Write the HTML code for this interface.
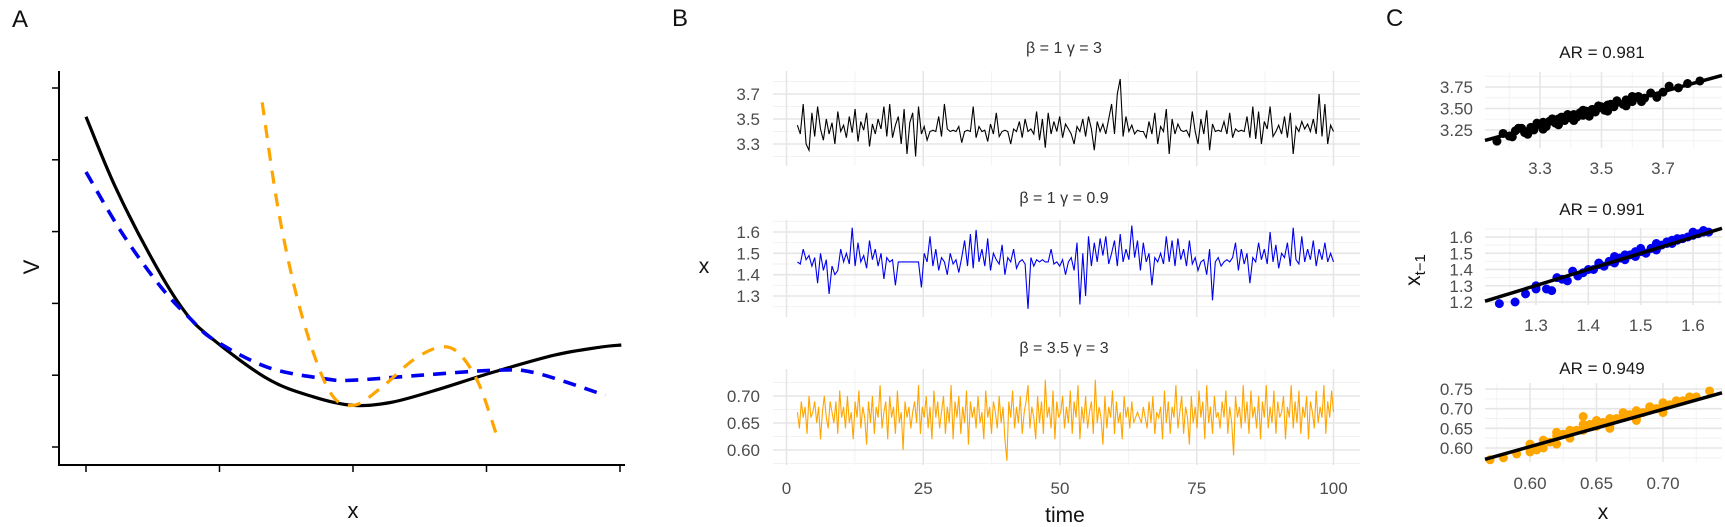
<!DOCTYPE html>
<html><head><meta charset="utf-8">
<style>
html,body{margin:0;padding:0;background:#fff;}
svg{display:block;font-family:"Liberation Sans",sans-serif;}
</style></head>
<body>
<svg id="fig" width="1725" height="527" viewBox="0 0 1725 527" xmlns="http://www.w3.org/2000/svg">
  <text x="12" y="27" font-size="24" fill="#111">A</text>
  <text x="672" y="26" font-size="24" fill="#111">B</text>
  <text x="1386" y="26" font-size="24" fill="#111">C</text>
  <g id="pa"></g>
  <g id="pb"></g>
  <g id="pc"></g>
</svg>
<script>
// ---------- Panel A data (x, V in arbitrary units) ----------
const aTicksX = [0,1,2,3,4];
const aTicksY = [0,1,2,3,4,5];
const blackX = [0,0.22,0.50,0.73,0.93,1.36,1.70,2.0,2.28,2.60,3.03,3.51,3.85,4.01];
const blackV = [4.60,3.62,2.60,1.91,1.53,0.95,0.70,0.58,0.62,0.78,1.03,1.28,1.39,1.42];
const blueX = [0,0.27,0.56,0.79,0.96,1.36,1.79,2.0,2.51,3.08,3.37,3.89];
const blueV = [3.83,2.98,2.23,1.77,1.49,1.11,0.95,0.93,1.00,1.07,1.03,0.72];
const orangeX = [1.32,1.45,1.62,1.82,2.0,2.22,2.45,2.65,2.79,2.94,3.08];
const orangeV = [4.80,3.20,1.81,0.79,0.58,0.84,1.21,1.39,1.31,0.89,0.14];

// ---------- Panel B data ----------
const bTimeTicks = [0,25,50,75,100];
const bStart = 2;
const bEnd = 100;
const seriesBlack = [
3.45,3.38,3.62,3.30,3.25,3.55,3.36,3.60,3.42,3.33,3.50,3.38,3.47,3.30,3.56,3.40,3.45,3.35,3.52,3.39,
3.58,3.32,3.48,3.41,3.55,3.28,3.46,3.38,3.50,3.42,3.60,3.36,3.62,3.35,3.45,3.52,3.30,3.58,3.22,3.47,
3.55,3.20,3.60,3.38,3.44,3.33,3.40,3.41,3.40,3.52,3.36,3.62,3.42,3.40,3.41,3.40,3.44,3.31,3.40,3.41,
3.40,3.60,3.35,3.44,3.40,3.41,3.32,3.46,3.38,3.55,3.36,3.40,3.41,3.40,3.30,3.42,3.40,3.48,3.35,3.50,
3.40,3.42,3.38,3.56,3.33,3.50,3.27,3.55,3.38,3.48,3.40,3.52,3.35,3.46,3.42,3.38,3.30,3.44,3.40,3.50,
3.36,3.52,3.42,3.25,3.48,3.40,3.46,3.38,3.50,3.62,3.38,3.70,3.82,3.36,3.52,3.40,3.45,3.38,3.41,3.40,
3.40,3.35,3.48,3.38,3.55,3.30,3.44,3.40,3.58,3.22,3.50,3.38,3.46,3.41,3.40,3.41,3.36,3.56,3.40,3.30,
3.50,3.38,3.57,3.25,3.46,3.40,3.41,3.40,3.48,3.38,3.55,3.35,3.42,3.40,3.41,3.40,3.52,3.35,3.60,3.34,
3.56,3.30,3.48,3.42,3.60,3.36,3.40,3.45,3.38,3.52,3.35,3.55,3.22,3.44,3.40,3.48,3.42,3.46,3.40,3.50,
3.38,3.70,3.36,3.62,3.30,3.45,3.40];
const seriesBlue = [
1.46,1.45,1.52,1.47,1.49,1.44,1.48,1.36,1.50,1.42,1.47,1.31,1.44,1.40,1.42,1.52,1.46,1.50,1.45,1.62,
1.44,1.55,1.46,1.49,1.43,1.56,1.47,1.52,1.44,1.50,1.38,1.48,1.46,1.47,1.35,1.46,1.46,1.46,1.46,1.46,
1.46,1.46,1.46,1.34,1.50,1.46,1.58,1.44,1.52,1.42,1.48,1.46,1.40,1.50,1.45,1.47,1.41,1.48,1.56,1.44,
1.59,1.43,1.61,1.46,1.52,1.44,1.57,1.42,1.50,1.47,1.45,1.54,1.40,1.48,1.46,1.52,1.43,1.46,1.47,1.45,
1.24,1.48,1.44,1.47,1.46,1.47,1.46,1.46,1.52,1.45,1.46,1.44,1.47,1.40,1.46,1.48,1.42,1.55,1.26,1.50,
1.30,1.58,1.44,1.55,1.46,1.57,1.49,1.58,1.45,1.50,1.56,1.44,1.59,1.46,1.52,1.47,1.63,1.48,1.56,1.42,
1.55,1.46,1.50,1.35,1.48,1.46,1.50,1.45,1.58,1.46,1.56,1.44,1.57,1.47,1.52,1.44,1.56,1.45,1.48,1.42,
1.46,1.47,1.40,1.52,1.28,1.46,1.48,1.44,1.46,1.47,1.46,1.48,1.55,1.42,1.52,1.45,1.50,1.36,1.48,1.46,
1.55,1.47,1.52,1.45,1.60,1.46,1.54,1.43,1.50,1.48,1.55,1.44,1.62,1.47,1.45,1.58,1.46,1.52,1.47,1.56,
1.44,1.52,1.47,1.55,1.46,1.50,1.46];
const seriesOrange = [
0.67,0.64,0.69,0.66,0.68,0.63,0.70,0.66,0.67,0.69,0.65,0.68,0.62,0.67,0.70,0.66,0.64,0.69,0.67,0.65,
0.69,0.63,0.71,0.66,0.68,0.64,0.70,0.65,0.67,0.62,0.69,0.66,0.71,0.64,0.68,0.66,0.61,0.69,0.65,0.70,
0.63,0.68,0.66,0.72,0.64,0.67,0.69,0.62,0.70,0.66,0.68,0.63,0.71,0.65,0.67,0.60,0.69,0.66,0.68,0.64,
0.67,0.69,0.65,0.72,0.63,0.68,0.66,0.70,0.64,0.68,0.62,0.71,0.66,0.69,0.64,0.67,0.70,0.63,0.68,0.65,
0.72,0.62,0.69,0.66,0.70,0.63,0.68,0.65,0.71,0.61,0.69,0.66,0.68,0.64,0.70,0.65,0.67,0.62,0.71,0.66,
0.68,0.63,0.69,0.67,0.64,0.70,0.65,0.68,0.62,0.58,0.69,0.66,0.71,0.64,0.68,0.65,0.70,0.63,0.67,0.69,
0.72,0.64,0.68,0.66,0.62,0.70,0.65,0.69,0.63,0.73,0.66,0.68,0.64,0.71,0.62,0.69,0.66,0.67,0.70,0.64,
0.68,0.65,0.71,0.63,0.69,0.66,0.72,0.62,0.68,0.65,0.70,0.64,0.67,0.69,0.63,0.73,0.65,0.68,0.66,0.61,
0.70,0.64,0.68,0.66,0.71,0.63,0.69,0.65,0.67,0.62,0.70,0.66,0.68,0.64,0.69,0.65,0.66,0.67,0.66,0.65,
0.68,0.66,0.64,0.69,0.65,0.70,0.63,0.67,0.66,0.68,0.62,0.71,0.65,0.69,0.63,0.68,0.66,0.72,0.64,0.67,
0.70,0.63,0.68,0.66,0.61,0.70,0.65,0.68,0.64,0.71,0.66,0.69,0.62,0.72,0.65,0.68,0.63,0.70,0.66,0.67,
0.64,0.69,0.66,0.71,0.63,0.68,0.65,0.59,0.70,0.66,0.68,0.64,0.72,0.65,0.69,0.63,0.71,0.66,0.68,0.64,
0.70,0.62,0.69,0.66,0.72,0.64,0.68,0.65,0.71,0.63,0.69,0.66,0.67,0.70,0.62,0.68,0.66,0.72,0.64,0.69,
0.65,0.71,0.63,0.68,0.66,0.70,0.62,0.69,0.67,0.64,0.71,0.65,0.68,0.66,0.72,0.63,0.69,0.66,0.71,0.67];
const bYTicks1 = ["3.3","3.5","3.7"];
const bYTicks2 = ["1.3","1.4","1.5","1.6"];
const bYTicks3 = ["0.60","0.65","0.70"];

// ---------- Panel C data ----------
const arLabels = ["AR = 0.981","AR = 0.991","AR = 0.949"];
const fitSlope = [0.981,0.991,0.949];
const fitIntercept = [0.0665,0.013,0.034];
const cx1 = [3.16,3.20,3.22,3.25,3.27,3.28,3.30,3.32,3.33,3.35,3.36,3.38,3.39,3.40,3.41,3.42,3.43,3.44,3.45,3.46,3.47,3.48,3.50,3.51,3.52,3.54,3.55,3.57,3.58,3.60,3.62,3.64,3.66,3.68,3.70,3.72,3.75,3.78,3.82,3.24,3.31,3.37,3.44,3.49,3.53,3.61,
3.18,3.21,3.23,3.26,3.29,3.31,3.34,3.36,3.39,3.41,3.44,3.46,3.49,3.52,3.55,3.58,3.60,3.63];
const cy1 = [3.12,3.18,3.24,3.22,3.28,3.25,3.31,3.29,3.35,3.33,3.38,3.36,3.41,3.39,3.43,3.40,3.45,3.42,3.47,3.44,3.49,3.46,3.52,3.48,3.54,3.52,3.57,3.55,3.60,3.58,3.64,3.62,3.68,3.63,3.69,3.76,3.74,3.79,3.82,3.27,3.34,3.40,3.46,3.51,3.55,3.63,
3.21,3.17,3.27,3.20,3.33,3.26,3.38,3.31,3.43,3.36,3.48,3.41,3.53,3.47,3.59,3.53,3.64,3.58];
const cx2 = [1.23,1.26,1.28,1.30,1.32,1.33,1.35,1.36,1.38,1.39,1.40,1.41,1.42,1.43,1.44,1.45,1.46,1.47,1.48,1.49,1.50,1.51,1.52,1.53,1.54,1.55,1.56,1.57,1.58,1.59,1.60,1.61,1.62,1.63,1.30,1.34,1.44,1.46,1.52,1.58,
1.37,1.42,1.47,1.50,1.53,1.55,1.57,1.60,1.62,1.45,1.49,1.56];
const cy2 = [1.19,1.20,1.25,1.28,1.28,1.27,1.34,1.33,1.36,1.38,1.40,1.40,1.43,1.42,1.45,1.44,1.47,1.46,1.49,1.48,1.51,1.50,1.53,1.52,1.55,1.57,1.56,1.58,1.59,1.60,1.61,1.62,1.63,1.63,1.30,1.35,1.45,1.47,1.53,1.59,
1.39,1.44,1.49,1.53,1.56,1.56,1.59,1.63,1.64,1.48,1.51,1.58];
const cx3 = [0.57,0.58,0.59,0.60,0.605,0.61,0.615,0.62,0.625,0.63,0.635,0.64,0.645,0.65,0.655,0.66,0.665,0.67,0.675,0.68,0.685,0.69,0.695,0.70,0.705,0.71,0.715,0.72,0.725,0.735,0.60,0.62,0.64,0.66,0.68,0.70,0.61,0.63,0.65,0.67,
0.62,0.63,0.64,0.65,0.66,0.67,0.68,0.69,0.70,0.71,0.72,0.64,0.66,0.68,0.70];
const cy3 = [0.57,0.575,0.585,0.61,0.595,0.62,0.615,0.63,0.635,0.64,0.645,0.65,0.66,0.655,0.665,0.67,0.675,0.68,0.685,0.69,0.69,0.70,0.70,0.71,0.71,0.715,0.72,0.725,0.73,0.745,0.59,0.61,0.68,0.65,0.67,0.69,0.60,0.625,0.66,0.68,
0.64,0.645,0.66,0.67,0.675,0.69,0.695,0.705,0.715,0.72,0.73,0.645,0.655,0.675,0.70];
const cXTicks1 = ["3.3","3.5","3.7"], cYTicks1 = ["3.25","3.50","3.75"];
const cXTicks2 = ["1.3","1.4","1.5","1.6"], cYTicks2 = ["1.2","1.3","1.4","1.5","1.6"];
const cXTicks3 = ["0.60","0.65","0.70"], cYTicks3 = ["0.60","0.65","0.70","0.75"];

// ---------- helpers ----------
const NS = "http://www.w3.org/2000/svg";
function mk(parent, tag, attrs){ const e=document.createElementNS(NS,tag); for(const k in attrs) e.setAttribute(k,attrs[k]); parent.appendChild(e); return e; }
function lin(d0,d1,r0,r1){ return v => r0 + (v-d0)/(d1-d0)*(r1-r0); }
function smoothPath(pts){
  let d = "M"+pts[0][0].toFixed(1)+","+pts[0][1].toFixed(1);
  for(let i=0;i<pts.length-1;i++){
    const p0=pts[Math.max(0,i-1)],p1=pts[i],p2=pts[i+1],p3=pts[Math.min(pts.length-1,i+2)];
    const c1=[p1[0]+(p2[0]-p0[0])/6,p1[1]+(p2[1]-p0[1])/6];
    const c2=[p2[0]-(p3[0]-p1[0])/6,p2[1]-(p3[1]-p1[1])/6];
    d+=" C"+c1[0].toFixed(1)+","+c1[1].toFixed(1)+" "+c2[0].toFixed(1)+","+c2[1].toFixed(1)+" "+p2[0].toFixed(1)+","+p2[1].toFixed(1);
  }
  return d;
}

// ---------- Panel A ----------
(function(){
  const g=document.getElementById('pa');
  const X=lin(0,4,86,620), Y=lin(0,5,447,88);
  const ax=mk(g,'line',{x1:59,y1:71,x2:59,y2:466,stroke:'#000','stroke-width':2});
   
  const bx=mk(g,'line',{x1:58,y1:465,x2:625,y2:465,stroke:'#000','stroke-width':2});
   
  aTicksX.forEach(v=>{ const t=mk(g,'line',{x1:X(v),y1:465,x2:X(v),y2:472,stroke:'#000','stroke-width':1.5});
      });
  aTicksY.forEach(v=>{ const t=mk(g,'line',{x1:52,y1:Y(v),x2:59,y2:Y(v),stroke:'#000','stroke-width':1.5});
      });
  const xl=mk(g,'text',{x:353,y:518,'font-size':22,'text-anchor':'middle',fill:'#111'}); xl.textContent='x';
   
  const yl=mk(g,'text',{x:0,y:0,'font-size':22,'text-anchor':'middle',fill:'#111',transform:'translate(39,267) rotate(-90)'}); yl.textContent='V';
   
  const curves=[[blackX,blackV,'#000','none',3.2,'potential-black'],[blueX,blueV,'#0000ee','13 9',3.6,'potential-blue'],[orangeX,orangeV,'#ffa500','13 10',3.2,'potential-orange']];
  curves.forEach(c=>{
    const pts=c[0].map((x,i)=>[X(x),Y(c[1][i])]);
    const p=mk(g,'path',{d:smoothPath(pts),fill:'none',stroke:c[2],'stroke-width':c[4],'stroke-dasharray':c[3]});
     
  });
})();

// ---------- Panel B ----------
(function(){
  const g=document.getElementById('pb');
  const X=lin(0,100,786.5,1333.5);
  const panels=[
    {data:seriesBlack,color:'#000',top:71,bot:166,v0:3.3,p0:144,v1:3.7,p1:94,ticks:bYTicks1,minor:[3.2,3.4,3.6,3.8],title:'β = 1  γ = 3',ty:53,name:'b-series-1'},
    {data:seriesBlue,color:'#0000ee',top:220,bot:317,v0:1.3,p0:296,v1:1.6,p1:232,ticks:bYTicks2,minor:[1.25,1.35,1.45,1.55,1.65],title:'β = 1  γ = 0.9',ty:203,name:'b-series-2'},
    {data:seriesOrange,color:'#ffa500',top:369,bot:465,v0:0.60,p0:450,v1:0.70,p1:396,ticks:bYTicks3,minor:[0.575,0.625,0.675,0.725],title:'β = 3.5  γ = 3',ty:353,name:'b-series-3'}];
  panels.forEach(P=>{
    const Y=lin(P.v0,P.v1,P.p0,P.p1);
    const L=773,R=1360;
    P.minor.forEach(v=>{ const y=Y(v); if(y<P.top||y>P.bot) return;
      const l=mk(g,'line',{x1:L,x2:R,y1:y,y2:y,stroke:'#f2f2f2','stroke-width':1});
        });
    [12.5,37.5,62.5,87.5].forEach(v=>{ const l=mk(g,'line',{x1:X(v),x2:X(v),y1:P.top,y2:P.bot,stroke:'#f2f2f2','stroke-width':1});
        });
    P.ticks.forEach(s=>{ const y=Y(parseFloat(s));
      const l=mk(g,'line',{x1:L,x2:R,y1:y,y2:y,stroke:'#e6e6e6','stroke-width':1.6});
       
      const t=mk(g,'text',{x:760,y:y+6,'font-size':17,'text-anchor':'end',fill:'#4d4d4d'}); t.textContent=s;
        });
    bTimeTicks.forEach(v=>{ const l=mk(g,'line',{x1:X(v),x2:X(v),y1:P.top,y2:P.bot,stroke:'#e6e6e6','stroke-width':1.6});
        });
    const tt=mk(g,'text',{x:1064,y:P.ty,'font-size':16,'text-anchor':'middle',fill:'#333','xml:space':'preserve'}); tt.textContent=P.title;
     
    const step=(bEnd-bStart)/(P.data.length-1);
    const pts=P.data.map((v,i)=>X(bStart+i*step).toFixed(1)+','+Y(v).toFixed(1)).join(' ');
    const pl=mk(g,'polyline',{points:pts,fill:'none',stroke:P.color,'stroke-width':1.1});
     
  });
  bTimeTicks.forEach(v=>{ const t=mk(g,'text',{x:X(v),y:494,'font-size':17,'text-anchor':'middle',fill:'#4d4d4d'}); t.textContent=String(v);
      });
  const xl=mk(g,'text',{x:1065,y:522,'font-size':21,'text-anchor':'middle',fill:'#111'}); xl.textContent='time';
   
  const yl=mk(g,'text',{x:704,y:273,'font-size':21,'text-anchor':'middle',fill:'#111'}); yl.textContent='x';
   
})();

// ---------- Panel C ----------
(function(){
  const g=document.getElementById('pc');
  const L=1485,R=1722;
  const panels=[
    {xs:cx1,ys:cy1,color:'#000',top:72,bot:148,xa:[3.3,1540,3.7,1663],ya:[3.25,130,3.75,87],xt:cXTicks1,yt:cYTicks1,xminor:[3.2,3.4,3.6,3.8],yminor:[3.125,3.375,3.625,3.875],xly:174,ty:58},
    {xs:cx2,ys:cy2,color:'#0000ee',top:228,bot:305,xa:[1.3,1536,1.6,1693],ya:[1.2,302,1.6,237],xt:cXTicks2,yt:cYTicks2,xminor:[1.25,1.35,1.45,1.55,1.65],yminor:[1.25,1.35,1.45,1.55,1.65],xly:331,ty:215},
    {xs:cx3,ys:cy3,color:'#ffa500',top:383,bot:462,xa:[0.60,1530,0.70,1663],ya:[0.60,448,0.75,389],xt:cXTicks3,yt:cYTicks3,xminor:[0.575,0.625,0.675,0.725],yminor:[0.575,0.625,0.675,0.725],xly:489,ty:374}];
  panels.forEach((P,k)=>{
    const X=lin(P.xa[0],P.xa[2],P.xa[1],P.xa[3]), Y=lin(P.ya[0],P.ya[2],P.ya[1],P.ya[3]);
    P.xminor.forEach(v=>{ const x=X(v); if(x<L||x>R) return; const l=mk(g,'line',{x1:x,x2:x,y1:P.top,y2:P.bot,stroke:'#f2f2f2','stroke-width':1});
        });
    P.yminor.forEach(v=>{ const y=Y(v); if(y<P.top||y>P.bot) return; const l=mk(g,'line',{x1:L,x2:R,y1:y,y2:y,stroke:'#f2f2f2','stroke-width':1});
        });
    P.xt.forEach(s=>{ const x=X(parseFloat(s));
      const l=mk(g,'line',{x1:x,x2:x,y1:P.top,y2:P.bot,stroke:'#e6e6e6','stroke-width':1.6});
       
      const t=mk(g,'text',{x:x,y:P.xly,'font-size':17,'text-anchor':'middle',fill:'#4d4d4d'}); t.textContent=s;
        });
    P.yt.forEach(s=>{ const y=Y(parseFloat(s));
      const l=mk(g,'line',{x1:L,x2:R,y1:y,y2:y,stroke:'#e6e6e6','stroke-width':1.6});
       
      const t=mk(g,'text',{x:1473,y:y+6,'font-size':17,'text-anchor':'end',fill:'#4d4d4d'}); t.textContent=s;
        });
    const tt=mk(g,'text',{x:1602,y:P.ty,'font-size':17,'text-anchor':'middle',fill:'#1a1a1a'}); tt.textContent=arLabels[k];
     
    P.xs.forEach((xv,i)=>{ const c=mk(g,'circle',{cx:X(xv),cy:Y(P.ys[i]),r:4.5,fill:P.color});
        });
    const xa=(L-P.xa[1])/(P.xa[3]-P.xa[1])*(P.xa[2]-P.xa[0])+P.xa[0];
    const xb=(R-P.xa[1])/(P.xa[3]-P.xa[1])*(P.xa[2]-P.xa[0])+P.xa[0];
    const fl=mk(g,'line',{x1:L,y1:Y(fitIntercept[k]+fitSlope[k]*xa),x2:R,y2:Y(fitIntercept[k]+fitSlope[k]*xb),stroke:'#000','stroke-width':3.5});
     
  });
  const xl=mk(g,'text',{x:1603,y:519,'font-size':21,'text-anchor':'middle',fill:'#111'}); xl.textContent='x';
   
  const yl=mk(g,'text',{x:0,y:0,'font-size':21,'text-anchor':'middle',fill:'#111',transform:'translate(1420,270) rotate(-90)'});
   
  const t1=mk(yl,'tspan',{}); t1.textContent='x';
  const t2=mk(yl,'tspan',{'font-size':15,dy:5}); t2.textContent='t−1';
})();
</script>
</body></html>
